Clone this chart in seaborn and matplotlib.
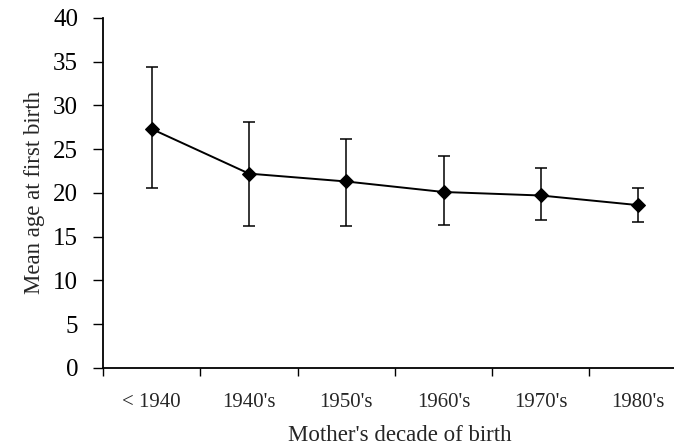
import numpy as np
import pandas as pd
import matplotlib
matplotlib.use("Agg")
import matplotlib.pyplot as plt
import seaborn as sns

# values
decades = ["< 1940", "1940's", "1950's", "1960's", "1970's", "1980's"]
mean_age = [27.3, 22.2, 21.3, 20.1, 19.7, 18.6]
upper = [34.4, 28.1, 26.2, 24.2, 22.8, 20.5]
lower = [20.5, 16.2, 16.2, 16.3, 16.9, 16.7]
y_ticks = [0, 5, 10, 15, 20, 25, 30, 35, 40]

sns.set_style("white")
plt.rcParams['font.family'] = ['Liberation Serif', 'DejaVu Serif']

df = pd.DataFrame({"decade": decades, "mean": mean_age})

fig = plt.figure(figsize=(6.74, 4.48), dpi=100)
ax = fig.add_axes([0.153, 0.179, 0.847, 0.781])

sns.lineplot(data=df, x="decade", y="mean", ax=ax, color="black", lw=1.4,
             marker="D", markersize=7.5, markeredgecolor="black", sort=False)

xpos = np.arange(len(decades))
m = np.array(mean_age)
yerr = [m - np.array(lower), np.array(upper) - m]
ax.errorbar(xpos, m, yerr=yerr, fmt="none", ecolor="black", elinewidth=1.1,
            capsize=4.5, capthick=1.1)

ax.set_xlim(-0.5, 5.37)
ax.set_ylim(0, 40)
ax.set_yticks(y_ticks)
ax.set_xticks(xpos)
ax.set_xticklabels(decades)
ax.set_xticks(np.arange(-0.5, 5.0, 1.0), minor=True)

for s in ["top", "right"]:
    ax.spines[s].set_visible(False)
for s in ["left", "bottom"]:
    ax.spines[s].set_color("black")
    ax.spines[s].set_linewidth(1.3)

ax.tick_params(axis="y", which="major", direction="out", length=7, width=1,
               labelsize=18, pad=11, left=True, colors="black")
ax.tick_params(axis="x", which="major", length=0, labelsize=15, pad=18)
ax.tick_params(axis="x", which="minor", direction="out", length=6, width=1,
               bottom=True, colors="black")

ax.set_xlabel("Mother's decade of birth", fontsize=16.5, va="baseline")
ax.xaxis.set_label_coords(0.52, -0.208)
ax.set_ylabel("Mean age at first birth", fontsize=16.5, labelpad=6)

fig.savefig("out.png", dpi=100)
